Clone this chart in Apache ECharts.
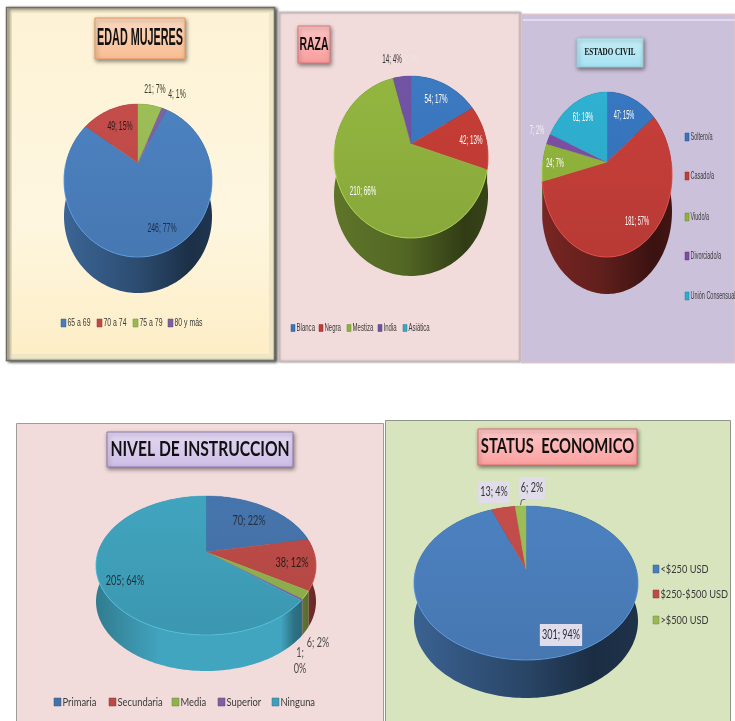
<!DOCTYPE html>
<html>
<head>
<meta charset="utf-8">
<title>Perfil de mujeres</title>
<script src="https://cdn.jsdelivr.net/npm/echarts@6/dist/echarts.min.js"></script>
<style>
  html, body { margin: 0; padding: 0; background: #fff; }
  #chart { width: 735px; height: 721px; }
</style>
</head>
<body>
<div id="chart"></div>
<script>
const edadCategories = ['65 a 69', '70 a 74', '75 a 79', '80 y más']
const edadValues = [246, 49, 21, 4]
const edadPercents = [77, 15, 7, 1]

const razaCategories = ['Blanca', 'Negra', 'Mestiza', 'India', 'Asiática']
const razaValues = [54, 42, 210, 14, 0]
const razaPercents = [17, 13, 66, 4, 0]

const civilCategories = ['Soltero/a', 'Casado/a', 'Viudo/a', 'Divorciado/a', 'Unión Consensual']
const civilValues = [47, 181, 24, 7, 61]
const civilPercents = [15, 57, 7, 2, 19]

const nivelCategories = ['Primaria', 'Secundaria', 'Media', 'Superior', 'Ninguna']
const nivelValues = [70, 38, 6, 1, 205]
const nivelPercents = [22, 12, 2, 0, 64]

const statusCategories = ['<$250 USD', '$250-$500 USD', '>$500 USD']
const statusValues = [301, 13, 6]
const statusPercents = [94, 4, 2]

const SANS = '"Liberation Sans", sans-serif'
const LATO = 'Lato, sans-serif'
const officeColors = ['#4a7ebb', '#be4b48', '#98b954', '#7d60a0', '#46aac5']

// geometry of each drawn pie: apex, rim extents and wall depth
const pies = [
  {
    categories: edadCategories, values: edadValues, percents: edadPercents,
    colors: officeColors, rotation: 28.125,
    cx: 138, cy: 163, halfWidth: 74, rimTop: 104, rimBottom: 257, depth: 36,
    wall: [[0, 0.8], [0.5, 0.6], [0.85, 0.38], [1, 0.42]],
    font: { family: SANS, size: 12.5, scale: 0.55 },
    labels: [[162, 229], [120, 127], [155, 90], [177, 95]],
    labelColors: ['#1c2c48', '#2a1a1a', '#3a3a2a', '#3a3a2a'],
    legend: { spots: [[61, 323], [97, 323], [133, 323], [168, 323]], swatch: [5, 8], font: SANS, size: 11.5, scale: 0.6 }
  },
  {
    categories: razaCategories, values: razaValues, percents: razaPercents,
    colors: ['#3a76bc', '#c23c35', '#8fb13e', '#6f52a0', '#3aa6c4'], rotation: 0,
    cx: 411, cy: 144, halfWidth: 77, rimTop: 76, rimBottom: 238, depth: 38,
    wall: [[0, 0.66], [0.45, 0.58], [0.85, 0.34], [1, 0.38]],
    font: { family: SANS, size: 12.5, scale: 0.5 },
    labels: [[436, 100], [471, 141], [363, 192], [392, 60], [411, 60]],
    labelColors: ['#fff', '#fff', '#fff', '#333', '#ece4e4'],
    legend: { spots: [[291, 328], [319, 328], [347, 328], [378, 328], [403, 328]], swatch: [4, 7], font: SANS, size: 11, scale: 0.55 }
  },
  {
    categories: civilCategories, values: civilValues, percents: civilPercents,
    colors: ['#3674bb', '#c23d38', '#8fb23b', '#7a4ea0', '#2eaccc'], rotation: 0,
    cx: 607, cy: 162, halfWidth: 65, rimTop: 92, rimBottom: 257, depth: 37,
    wall: [[0, 0.62], [0.45, 0.5], [0.85, 0.3], [1, 0.34]],
    font: { family: SANS, size: 12, scale: 0.47 },
    labels: [[624, 116], [637, 222], [555, 164], [537, 131], [583, 118]],
    labelColors: ['#fff', '#fff', '#fff', '#f4f0f8', '#fff'],
    legend: { spots: [[685, 137], [685, 176], [685, 217], [685, 256], [685, 296]], swatch: [4, 8], font: SANS, size: 11, scale: 0.5 }
  },
  {
    categories: nivelCategories, values: nivelValues, percents: nivelPercents,
    colors: ['#4472a8', '#b94a46', '#8fb24c', '#7d60a0', '#3f9fb9'], rotation: 0,
    cx: 206, cy: 552, halfWidth: 110, rimTop: 496, rimBottom: 635, depth: 36,
    wall: [[0, 0.78], [0.3, 1.04], [0.84, 1.04], [0.9, 0.72], [1, 0.55]],
    font: { family: LATO, size: 13, scale: 0.7 },
    labels: [[249, 521], [292, 563], [318, 643], [300, 661], [125, 581]],
    labelColors: ['#26303c', '#2a1c1c', '#4a4a4a', '#4a4a4a', '#1e3038'],
    legend: { spots: [[54, 702], [109, 702], [172, 702], [218, 702], [272, 702]], swatch: [7, 8], font: LATO, size: 12, scale: 0.78 }
  },
  {
    categories: statusCategories, values: statusValues, percents: statusPercents,
    colors: ['#4a7dba', '#be4b48', '#98b954'], rotation: 0,
    cx: 526, cy: 569, halfWidth: 112, rimTop: 506, rimBottom: 660, depth: 38,
    wall: [[0, 0.78], [0.5, 0.55], [0.8, 0.36], [1, 0.4]],
    font: { family: LATO, size: 12.5, scale: 0.72 },
    labelBox: '#e1dcea',
    labels: [[561, 635], [494, 492], [532, 488]],
    labelColors: ['#1e2a3a', '#333', '#333'],
    leaderFor: 2,
    legend: { spots: [[653, 569], [653, 594], [653, 620]], swatch: [6, 8], font: LATO, size: 12, scale: 0.77 }
  }
]

// color.lift cannot darken, so multiply the channels here
function shade(color, m) {
  const c = echarts.color.parse(color)
  const ch = i => Math.min(255, Math.round(c[i] * m))
  return `rgb(${ch(0)},${ch(1)},${ch(2)})`
}

// project a clock angle on the tilted disc (near side gets larger, so the apex sits above the ellipse centre)
function projector(pie) {
  const above = pie.cy - pie.rimTop
  const below = pie.rimBottom - pie.cy
  const k = (below - above) / (below + above)
  const sx = pie.halfWidth * Math.sqrt(1 - k * k)
  const sy = above * (1 + k)
  return function (deg) {
    const a = deg * Math.PI / 180
    const u = Math.sin(a)
    const v = -Math.cos(a)
    const w = 1 - k * v
    return [pie.cx + sx * u / w, pie.cy + sy * v / w]
  }
}

function arcPoints(project, from, to) {
  const pts = []
  const steps = Math.max(1, Math.ceil((to - from) / 1.5))
  for (let s = 0; s <= steps; s++) pts.push(project(from + (to - from) * s / steps))
  return pts
}

function sliceSeries(pie, index) {
  const color = pie.colors[index]
  const total = pie.values.reduce((a, b) => a + b, 0)
  const before = pie.values.slice(0, index).reduce((a, b) => a + b, 0)
  return {
    type: 'custom',
    name: pie.categories[index],
    coordinateSystem: 'none',
    itemStyle: { color },
    silent: true,
    clip: false,
    data: [[pie.values[index], pie.percents[index]]],
    renderItem(params, api) {
      const value = api.value(0)
      const start = pie.rotation + before / total * 360
      const end = start + value / total * 360
      const project = projector(pie)
      const rim = arcPoints(project, start, end)
      const children = []

      if (value > 0) {
        const low = rim.map(p => [p[0], p[1] + pie.depth]).reverse()
        children.push({
          type: 'polygon',
          z2: 1,
          shape: { points: rim.concat(low) },
          style: {
            fill: new echarts.graphic.LinearGradient(
              pie.cx - pie.halfWidth, 0, pie.cx + pie.halfWidth, 0,
              pie.wall.map(s => ({ offset: s[0], color: shade(color, s[1]) })),
              true
            )
          }
        })
        children.push({
          type: 'polygon',
          z2: 2,
          shape: { points: [[pie.cx, pie.cy]].concat(rim) },
          style: {
            fill: new echarts.graphic.LinearGradient(
              0, pie.rimTop, 0, pie.rimBottom,
              [
                { offset: 0, color: shade(color, 1.03) },
                { offset: 1, color: shade(color, 0.95) }
              ],
              true
            ),
            stroke: color,
            lineWidth: 0.4
          }
        })
        // thin light edge along the front of the disc
        const front = rim.filter(p => p[1] > pie.cy)
        if (front.length > 1) {
          children.push({
            type: 'polyline',
            z2: 3,
            shape: { points: front },
            style: { stroke: shade(color, 1.3), lineWidth: 1, fill: null, opacity: 0.6 }
          })
        }
      }

      const spot = pie.labels[index]
      if (pie.leaderFor === index) {
        const mid = project((start + end) / 2)
        children.push({
          type: 'polyline',
          z2: 3,
          shape: { points: [[mid[0], mid[1] - 1], [mid[0] + 1, mid[1] - 6], [mid[0] + 5, mid[1] - 7]] },
          style: { stroke: '#444', lineWidth: 0.8, fill: null }
        })
      }

      const percent = api.value(1)
      const labelStyle = {
        text: value === 1 ? value + ';\n' + percent + '%' : value + '; ' + percent + '%',
        fill: pie.labelColors[index],
        fontFamily: pie.font.family,
        fontSize: pie.font.size,
        lineHeight: 16,
        align: 'center',
        verticalAlign: 'middle'
      }
      if (pie.labelBox) {
        labelStyle.backgroundColor = pie.labelBox
        labelStyle.padding = [3, 3, 3, 3]
      }
      children.push({
        type: 'text',
        z2: 4,
        x: spot[0],
        y: spot[1],
        scaleX: pie.font.scale,
        style: labelStyle
      })

      return { type: 'group', children }
    }
  }
}

// the legends need squeezed text, which the legend component cannot do
function legendEntries(pie) {
  const lg = pie.legend
  return pie.categories.flatMap((name, i) => [
    {
      type: 'rect',
      z: 3,
      shape: { x: lg.spots[i][0], y: lg.spots[i][1] - lg.swatch[1] / 2, width: lg.swatch[0], height: lg.swatch[1] },
      style: { fill: pie.colors[i], stroke: shade(pie.colors[i], 0.75), lineWidth: 0.5 }
    },
    {
      type: 'text',
      z: 3,
      x: lg.spots[i][0] + lg.swatch[0] + 1.5,
      y: lg.spots[i][1],
      scaleX: lg.scale,
      style: { text: name, fontFamily: lg.font, fontSize: lg.size, fill: '#3a3a3a', align: 'left', verticalAlign: 'middle' }
    }
  ])
}

function panel(x, y, w, h, fill, stroke, extra) {
  return {
    type: 'rect',
    shape: { x, y, width: w, height: h },
    style: Object.assign({ fill, stroke, lineWidth: 1 }, extra || {})
  }
}

function titleBox(x, y, w, h, colors, stroke, text, font, scaleX) {
  return [
    {
      type: 'rect',
      z: 1,
      shape: { x, y, width: w, height: h },
      style: {
        fill: new echarts.graphic.LinearGradient(0, 0, 0, 1, [
          { offset: 0, color: colors[0] },
          { offset: 1, color: colors[1] }
        ]),
        stroke,
        lineWidth: 1,
        shadowBlur: 4,
        shadowOffsetX: 1,
        shadowOffsetY: 2,
        shadowColor: 'rgba(0,0,0,0.45)'
      }
    },
    {
      type: 'text',
      z: 2,
      x: x + w / 2,
      y: y + h / 2,
      scaleX,
      style: { text, font, fill: '#111', align: 'center', verticalAlign: 'middle' }
    }
  ]
}

const vertical = (c0, c1, c2) => new echarts.graphic.LinearGradient(0, 0, 0, 1, [
  { offset: 0, color: c0 },
  { offset: 0.6, color: c1 },
  { offset: 1, color: c2 }
])

const panels = [
  // EDAD MUJERES, bevelled frame
  panel(6.5, 7.5, 268, 353, '#efe6c8', '#6f6e62', {
    lineWidth: 1.5, shadowBlur: 3, shadowOffsetX: 2, shadowOffsetY: 1, shadowColor: 'rgba(0,0,0,0.7)'
  }),
  panel(12, 13, 257, 341, vertical('#fdf2d5', '#fef6e0', '#fdeec6'), null),
  // RAZA
  panel(278.5, 12.5, 241, 349, '#f2dcdb', '#c4bcbc', {
    lineWidth: 1.5, shadowBlur: 2, shadowOffsetX: 1, shadowColor: 'rgba(0,0,0,0.3)'
  }),
  // ESTADO CIVIL
  panel(521, 14, 214, 349, '#ccc1da', '#e8c4c4'),
  panel(523, 19, 212, 2, '#e2daec', null),
  // NIVEL DE INSTRUCCION
  panel(16.5, 423.5, 367, 298, '#f2dcdb', '#a09a9a'),
  // STATUS ECONOMICO
  panel(385.5, 420.5, 345, 301, '#d7e4bd', '#8f9488')
]

const titles = [
  titleBox(95, 18, 90, 41, ['#fbd9c0', '#f9bd92'], '#e9995a', 'EDAD MUJERES', 'bold 24px ' + SANS, 0.45),
  titleBox(298, 26, 32, 37, ['#ffc4c4', '#f99d9d'], '#d87a7a', 'RAZA', 'bold 19px ' + SANS, 0.55),
  titleBox(577, 38, 66, 29, ['#c6eef8', '#a6e2f2'], '#9bc8d6', 'ESTADO CIVIL', 'bold 10px "Liberation Serif", serif', 0.71),
  titleBox(107, 432, 186, 35, ['#e4d9f2', '#cdbde6'], '#8f78b4', 'NIVEL DE INSTRUCCION', 'bold 21px ' + LATO, 0.745),
  titleBox(478, 429, 159, 36, ['#ffc9c9', '#fb9f9f'], '#df6f6f', 'STATUS  ECONOMICO', 'bold 20px ' + LATO, 0.74)
]

const option = {
  animation: false,
  backgroundColor: '#fff',
  graphic: { elements: panels.concat(titles.flat(), pies.flatMap(legendEntries)) },
  series: pies.flatMap(pie => pie.values.map((_, i) => sliceSeries(pie, i)))
}

const chart = echarts.init(document.getElementById('chart'))
chart.setOption(option)
</script>
</body>
</html>
